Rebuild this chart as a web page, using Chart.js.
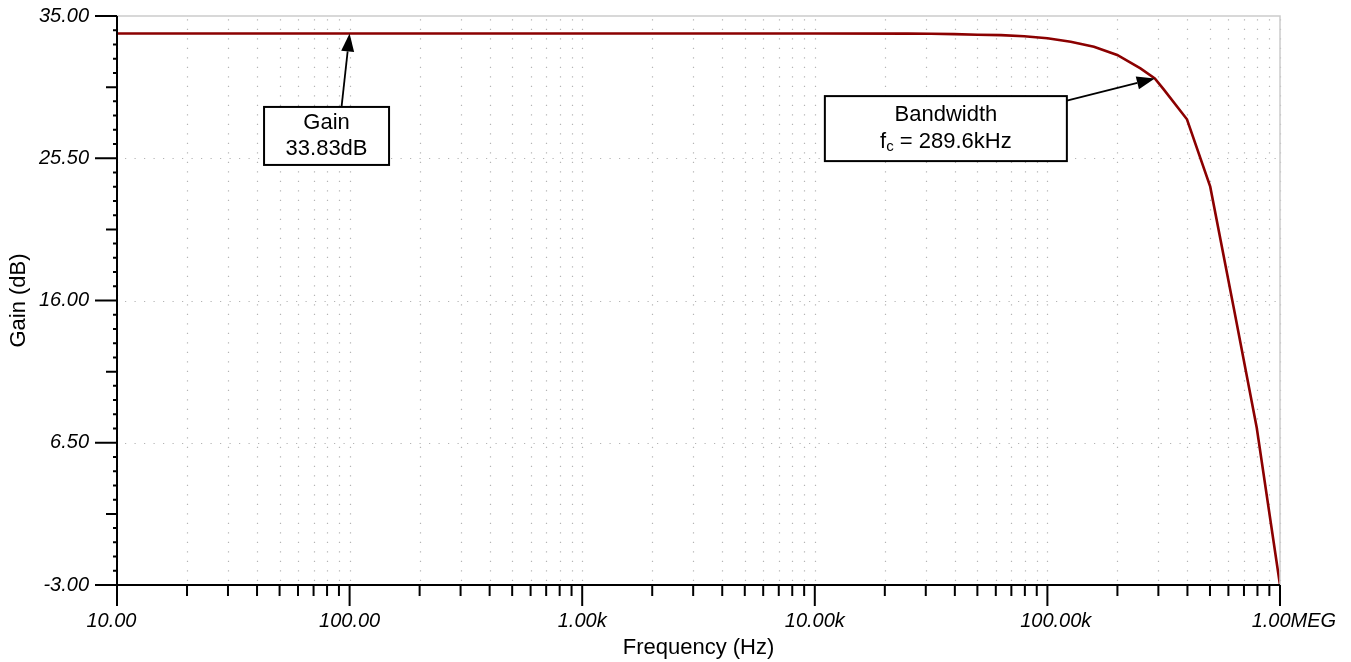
<!DOCTYPE html>
<html>
<head>
<meta charset="utf-8">
<title>Gain vs Frequency</title>
<script src="https://cdn.jsdelivr.net/npm/chart.js@4.4.1/dist/chart.umd.min.js"></script>
<style>
  html, body { margin: 0; padding: 0; background: #fff; }
  canvas { display: block; }
</style>
</head>
<body>
<canvas id="gain-chart" width="1351" height="662"></canvas>
<script>
// АЧХ усилителя
const freqHz = [10, 100, 1000, 10000, 25119, 31623, 39811, 50119, 63096, 79433,
                100000, 125893, 158489, 199526, 251189, 289600, 316228, 398107,
                501187, 630957, 794328, 1000000];
const gainDb = [33.83, 33.83, 33.83, 33.83, 33.82, 33.81, 33.79, 33.75, 33.72, 33.65,
                33.51, 33.28, 32.95, 32.40, 31.50, 30.83, 30.10, 28.10,
                23.60, 15.60, 7.50, -3.00];

// Подписи осей
const xMajorTicks = [10, 100, 1000, 10000, 100000, 1000000];
const xTickLabels = ['10.00', '100.00', '1.00k', '10.00k', '100.00k', '1.00MEG'];
const yMajorTicks = [-3, 6.5, 16, 25.5, 35];
const yTickLabels = ['-3.00', '6.50', '16.00', '25.50', '35.00'];

// Выноски
const notes = [
  { lines: [[{ t: 'Gain' }], [{ t: '33.83dB' }]],
    center: { x: 79.6, y: 26.99 }, size: [125, 58], tailOffset: [15, -29],
    tip: { x: 100, y: 33.83 } },
  { lines: [[{ t: 'Bandwidth' }], [{ t: 'f' }, { t: 'c', sub: true }, { t: ' = 289.6kHz' }]],
    center: { x: 36600, y: 27.48 }, size: [242, 65], tailOffset: [121, -28],
    tip: { x: 289600, y: 30.83 } }
];

const FONT = "'Liberation Sans', Arial, sans-serif";

// Второстепенные деления по X: 2..9 в каждой декаде
const xMinorTicks = [];
for (let d = 10; d < 1000000; d *= 10) {
  for (let k = 2; k <= 9; k++) xMinorTicks.push(d * k);
}

// Деления по Y: шаг 0.95, каждое пятое — среднее, каждое десятое — основное
const yAllTicks = [];
for (let i = 0; i <= 40; i++) yAllTicks.push({ v: -3 + 0.95 * i, kind: i % 10 === 0 ? 2 : (i % 5 === 0 ? 1 : 0) });

// Сдвиг подписей X как в оригинале (пробелами)
function shiftLabel(text, i) {
  if (i === 0) return text + '  ';
  if (i === 4) return '   ' + text;
  if (i === 5) return '     ' + text;
  return text;
}

const decorPlugin = {
  id: 'decor',
  beforeDatasetsDraw(chart) {
    const { ctx, chartArea: a, scales: { x, y } } = chart;
    ctx.save();
    ctx.strokeStyle = '#b4b4b4';
    ctx.lineWidth = 1.2;
    ctx.setLineDash([1.2, 8.3]);
    xMajorTicks.concat(xMinorTicks).forEach(v => {
      const px = Math.round(x.getPixelForValue(v)) + 0.5;
      ctx.beginPath();
      ctx.moveTo(px, a.bottom - 4);
      ctx.lineTo(px, a.top);
      ctx.stroke();
    });
    yMajorTicks.slice(1, -1).forEach(v => {
      const py = Math.round(y.getPixelForValue(v)) + 0.5;
      ctx.beginPath();
      ctx.moveTo(a.left + 8, py);
      ctx.lineTo(a.right, py);
      ctx.stroke();
    });
    ctx.restore();
  },
  afterDatasetsDraw(chart) {
    const { ctx, chartArea: a, scales: { x, y } } = chart;
    ctx.save();
    // верхняя и правая рамка
    ctx.strokeStyle = '#cccccc';
    ctx.lineWidth = 1.5;
    ctx.beginPath();
    ctx.moveTo(a.left, a.top);
    ctx.lineTo(a.right, a.top);
    ctx.lineTo(a.right, a.bottom);
    ctx.stroke();

    // оси
    ctx.strokeStyle = '#000';
    ctx.lineWidth = 2;
    ctx.beginPath();
    ctx.moveTo(a.left, a.top);
    ctx.lineTo(a.left, a.bottom);
    ctx.lineTo(a.right, a.bottom);
    ctx.stroke();

    // деления X
    ctx.beginPath();
    xMajorTicks.forEach(v => {
      const px = x.getPixelForValue(v);
      ctx.moveTo(px, a.bottom);
      ctx.lineTo(px, a.bottom + 21);
    });
    xMinorTicks.forEach(v => {
      const px = x.getPixelForValue(v);
      ctx.moveTo(px, a.bottom);
      ctx.lineTo(px, a.bottom + 11);
    });
    // деления Y
    yAllTicks.forEach(t => {
      const py = y.getPixelForValue(t.v);
      const len = t.kind === 2 ? 22 : (t.kind === 1 ? 11 : 4);
      ctx.moveTo(a.left, py);
      ctx.lineTo(a.left - len, py);
    });
    ctx.stroke();
    ctx.restore();
  },
  afterDraw(chart) {
    const { ctx, scales: { x, y } } = chart;
    ctx.save();
    notes.forEach(n => {
      const cx = x.getPixelForValue(n.center.x);
      const cy = y.getPixelForValue(n.center.y);
      const [w, h] = n.size;
      ctx.fillStyle = '#fff';
      ctx.fillRect(cx - w / 2, cy - h / 2, w, h);
      ctx.strokeStyle = '#000';
      ctx.lineWidth = 2;
      ctx.strokeRect(cx - w / 2, cy - h / 2, w, h);

      // текст
      ctx.fillStyle = '#000';
      ctx.textBaseline = 'middle';
      ctx.textAlign = 'left';
      n.lines.forEach((segs, i) => {
        const ly = cy + (i - (n.lines.length - 1) / 2) * 26.5;
        let total = 0;
        segs.forEach(s => {
          ctx.font = (s.sub ? 15 : 22) + 'px ' + FONT;
          total += ctx.measureText(s.t).width;
        });
        let tx = cx - total / 2;
        segs.forEach(s => {
          ctx.font = (s.sub ? 15 : 22) + 'px ' + FONT;
          ctx.fillText(s.t, tx, s.sub ? ly + 5 : ly);
          tx += ctx.measureText(s.t).width;
        });
      });

      // стрелка
      const sx = cx + n.tailOffset[0], sy = cy + n.tailOffset[1];
      const ex = x.getPixelForValue(n.tip.x), ey = y.getPixelForValue(n.tip.y);
      const ang = Math.atan2(ey - sy, ex - sx);
      const hl = 18, hw = 6.5;
      const bx = ex - hl * Math.cos(ang), by = ey - hl * Math.sin(ang);
      ctx.lineWidth = 1.8;
      ctx.beginPath();
      ctx.moveTo(sx, sy);
      ctx.lineTo(bx, by);
      ctx.stroke();
      ctx.beginPath();
      ctx.moveTo(ex, ey);
      ctx.lineTo(bx + hw * Math.sin(ang), by - hw * Math.cos(ang));
      ctx.lineTo(bx - hw * Math.sin(ang), by + hw * Math.cos(ang));
      ctx.closePath();
      ctx.fill();
    });
    ctx.restore();
  }
};

new Chart(document.getElementById('gain-chart'), {
  type: 'line',
  data: {
    datasets: [{
      data: freqHz.map((f, i) => ({ x: f, y: gainDb[i] })),
      borderColor: '#8b0000',
      borderWidth: 2.6,
      pointRadius: 0,
      tension: 0,
      fill: false
    }]
  },
  options: {
    responsive: false,
    animation: false,
    layout: { padding: { top: 16, right: 71, left: 0, bottom: 0 } },
    plugins: { legend: { display: false }, tooltip: { enabled: false } },
    scales: {
      x: {
        type: 'logarithmic',
        min: 10,
        max: 1000000,
        afterBuildTicks: s => { s.ticks = xMajorTicks.map(v => ({ value: v })); },
        afterFit: s => { s.height = 77; s.paddingLeft = 0; s.paddingRight = 0; },
        grid: { display: false, drawTicks: false },
        border: { display: false },
        ticks: {
          autoSkip: false, maxRotation: 0, padding: 24, color: '#000',
          font: { family: FONT, size: 20, style: 'italic' },
          callback: (v, i) => shiftLabel(xTickLabels[i], i)
        },
        title: {
          display: true, text: 'Frequency (Hz)', color: '#000',
          font: { family: FONT, size: 22 }, padding: { top: 0, bottom: 1 }
        }
      },
      y: {
        type: 'linear',
        min: -3,
        max: 35,
        afterBuildTicks: s => { s.ticks = yMajorTicks.map(v => ({ value: v })); },
        afterFit: s => { s.width = 117; s.paddingTop = 0; s.paddingBottom = 0; },
        grid: { display: false, drawTicks: false },
        border: { display: false },
        ticks: {
          padding: 28, color: '#000',
          font: { family: FONT, size: 20, style: 'italic' },
          callback: (v, i) => yTickLabels[i]
        },
        title: {
          display: true, text: 'Gain (dB)', color: '#000',
          font: { family: FONT, size: 22 }, padding: { top: 6, bottom: 0 }
        }
      }
    }
  },
  plugins: [decorPlugin]
});
</script>
</body>
</html>
